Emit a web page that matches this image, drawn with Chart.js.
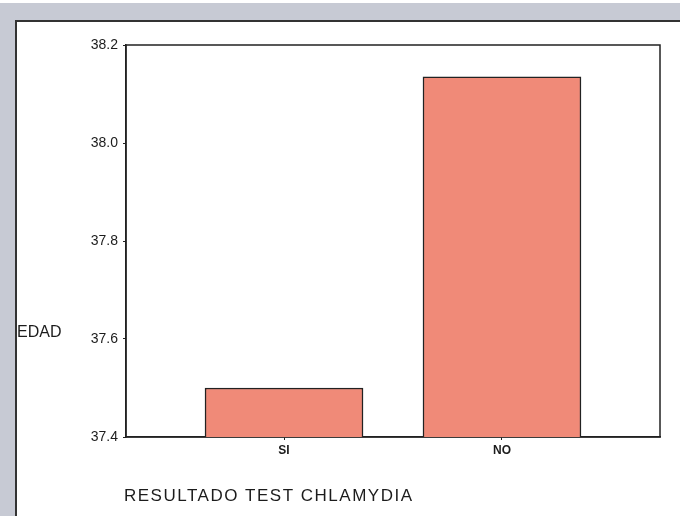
<!DOCTYPE html>
<html lang="es">
<head>
  <meta charset="UTF-8">
  <title>Edad por resultado test Chlamydia</title>
  <script src="https://cdn.jsdelivr.net/npm/chart.js"></script>
  <style>
    body { margin: 0; background: #fff; }
    #frame { position: absolute; left: 0; top: 3px; width: 680px; height: 513px; background: #c7cad4; }
    #inner { position: absolute; left: 15px; top: 17px; right: 0; bottom: 0; background: #fff;
             border-left: 2px solid #333; border-top: 2px solid #333; }
    #edadChart { position: absolute; left: 0; top: 0; }
  </style>
</head>
<body>
  <div id="frame"><div id="inner"></div></div>
  <canvas id="edadChart" width="680" height="516"></canvas>

  <script>
    // values
    const categories = ['SI', 'NO'];
    const edadMedia = [37.50, 38.135];
    const yMin = 37.4;
    const yMax = 38.2;
    const yStep = 0.2;

    const points = categories.map((c, i) => ({ x: i, y: edadMedia[i] }));

    // frame round the plot area plus the two free-standing labels
    const extras = {
      id: 'extras',
      beforeDatasetsDraw(chart) {
        const { ctx, chartArea } = chart;
        ctx.save();
        ctx.strokeStyle = '#222';
        ctx.lineWidth = 1.5;
        ctx.strokeRect(chartArea.left, chartArea.top, chartArea.right - chartArea.left, chartArea.bottom - chartArea.top);
        ctx.restore();
      },
      afterDraw(chart) {
        const ctx = chart.ctx;
        ctx.save();
        ctx.fillStyle = '#1c1c1c';
        ctx.textBaseline = 'alphabetic';
        ctx.font = '16px Arial, "Liberation Sans"';
        ctx.fillText('EDAD', 17, 337);
        ctx.font = '17px Arial, "Liberation Sans"';
        ctx.letterSpacing = '1.5px';
        ctx.fillText('RESULTADO TEST CHLAMYDIA', 124, 501);
        ctx.restore();
      }
    };

    const ctx = document.getElementById('edadChart').getContext('2d');
    new Chart(ctx, {
      type: 'bar',
      data: {
        datasets: [{
          data: points,
          backgroundColor: '#f08a78',
          borderColor: '#222',
          borderWidth: 1.5,
          barThickness: 158
        }]
      },
      options: {
        responsive: false,
        animation: false,
        layout: { padding: { top: 45, right: 20, left: 0, bottom: 0 } },
        plugins: { legend: { display: false }, tooltip: { enabled: false } },
        scales: {
          x: {
            type: 'linear',
            offset: false,
            min: -0.725,
            max: 1.725,
            afterBuildTicks: scale => { scale.ticks = categories.map((c, i) => ({ value: i })); },
            afterFit: scale => { scale.height = 79; },
            grid: { offset: false, drawOnChartArea: false, tickLength: 3, color: '#222' },
            border: { color: '#222', width: 1.5 },
            ticks: {
              padding: 3,
              color: '#1c1c1c',
              font: { family: 'Arial, "Liberation Sans"', size: 12, weight: 'bold' },
              callback: v => categories[v]
            }
          },
          y: {
            min: yMin,
            max: yMax,
            afterFit: scale => { scale.width = 126; },
            grid: { drawOnChartArea: false, tickLength: 3, color: '#222' },
            border: { color: '#222', width: 1.5 },
            ticks: {
              stepSize: yStep,
              padding: 5,
              color: '#1c1c1c',
              font: { family: 'Arial, "Liberation Sans"', size: 14 },
              callback: v => v.toFixed(1)
            }
          }
        }
      },
      plugins: [extras]
    });
  </script>
</body>
</html>
